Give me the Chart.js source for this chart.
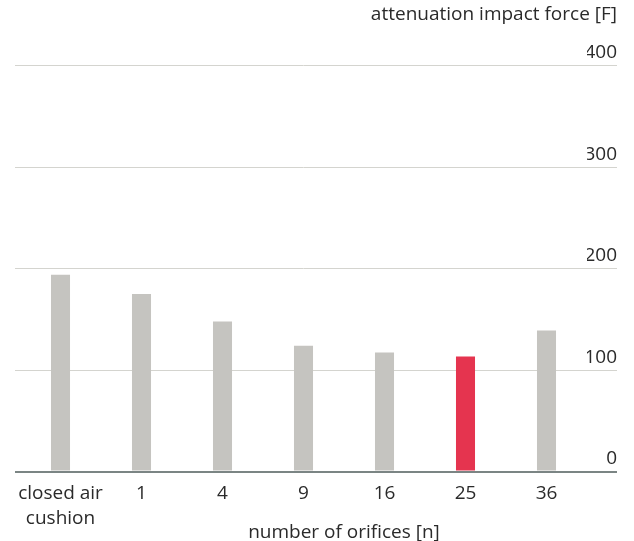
<!DOCTYPE html>
<html lang="en">
<head>
  <meta charset="UTF-8">
  <title>Attenuation impact force</title>
  <style>
    body { margin: 0; background: #fff; }
    #wrap { width: 634px; height: 541px; }
  </style>
</head>
<body>
  <div id="wrap"><canvas id="myChart" width="634" height="541"></canvas></div>

  <script src="https://cdn.jsdelivr.net/npm/chart.js"></script>
  <script>
    // values
    const categories = [['closed air', 'cushion'], '1', '4', '9', '16', '25', '36'];
    const forceValues = [194, 175, 148, 124, 117.5, 113.5, 139];
    const highlighted = '25';
    const yTicks = [0, 100, 200, 300, 400];
    const yTitle = 'attenuation impact force [F]';
    const xTitle = 'number of orifices [n]';

    const textColor = '#2a2a2a';
    const gridColor = '#d4d4cf';
    const axisColor = '#7b8584';
    const barGrey = '#c5c4c0';
    const barRed = '#e5344f';
    const font = { family: '"Open Sans", sans-serif', size: 19 };

    const lineColor = ctx => (ctx.tick && ctx.tick.value === 0 ? axisColor : gridColor);
    const lineWidth = ctx => (ctx.tick && ctx.tick.value === 0 ? 2 : 1);
    const setTicks = scale => { scale.ticks = yTicks.map(v => ({ value: v })); };

    // x axis title sits between the 9 and 16 columns
    const xTitlePlugin = {
      id: 'xTitle',
      afterDraw(chart) {
        const c = chart.ctx;
        const x = chart.scales.x;
        c.save();
        c.font = font.size + 'px ' + font.family;
        c.fillStyle = textColor;
        c.textAlign = 'center';
        c.textBaseline = 'alphabetic';
        c.fillText(xTitle, x.getPixelForValue(3.5), chart.height - 3);
        c.restore();
      }
    };

    const ctx = document.getElementById('myChart');

    new Chart(ctx, {
      type: 'bar',
      data: {
        labels: categories,
        datasets: [{
          data: forceValues,
          backgroundColor: categories.map(c => (c === highlighted ? barRed : barGrey)),
          borderWidth: 0,
          barPercentage: 0.235,
          categoryPercentage: 1.0
        }]
      },
      plugins: [xTitlePlugin],
      options: {
        responsive: false,
        animation: false,
        layout: { padding: { left: 15, right: 17, top: 0, bottom: 1 } },
        plugins: {
          legend: { display: false },
          tooltip: { enabled: false },
          title: {
            display: true,
            text: yTitle,
            align: 'end',
            color: textColor,
            font: { family: font.family, size: 19, weight: 'normal' },
            padding: { top: 3, bottom: 40 }
          }
        },
        scales: {
          x: {
            grid: { display: false, drawTicks: false },
            border: { display: false },
            ticks: {
              color: textColor,
              font: { family: font.family, size: 19, lineHeight: 1.3 },
              padding: 9.5,
              autoSkip: false,
              maxRotation: 0
            }
          },
          y: {
            position: 'right',
            min: yTicks[0],
            max: yTicks[yTicks.length - 1],
            afterBuildTicks: setTicks,
            afterFit: s => { s.width = 30; },
            border: { display: false },
            grid: { color: lineColor, lineWidth: lineWidth, tickLength: 30 },
            ticks: {
              color: textColor,
              font: font,
              crossAlign: 'far',
              labelOffset: -13
            }
          },
          yLeft: {
            position: 'left',
            min: yTicks[0],
            max: yTicks[yTicks.length - 1],
            afterBuildTicks: setTicks,
            afterFit: s => { s.width = 5; },
            border: { display: false },
            grid: { color: lineColor, lineWidth: lineWidth, tickLength: 5, drawOnChartArea: false },
            ticks: { display: false }
          }
        }
      }
    });
  </script>
</body>
</html>
